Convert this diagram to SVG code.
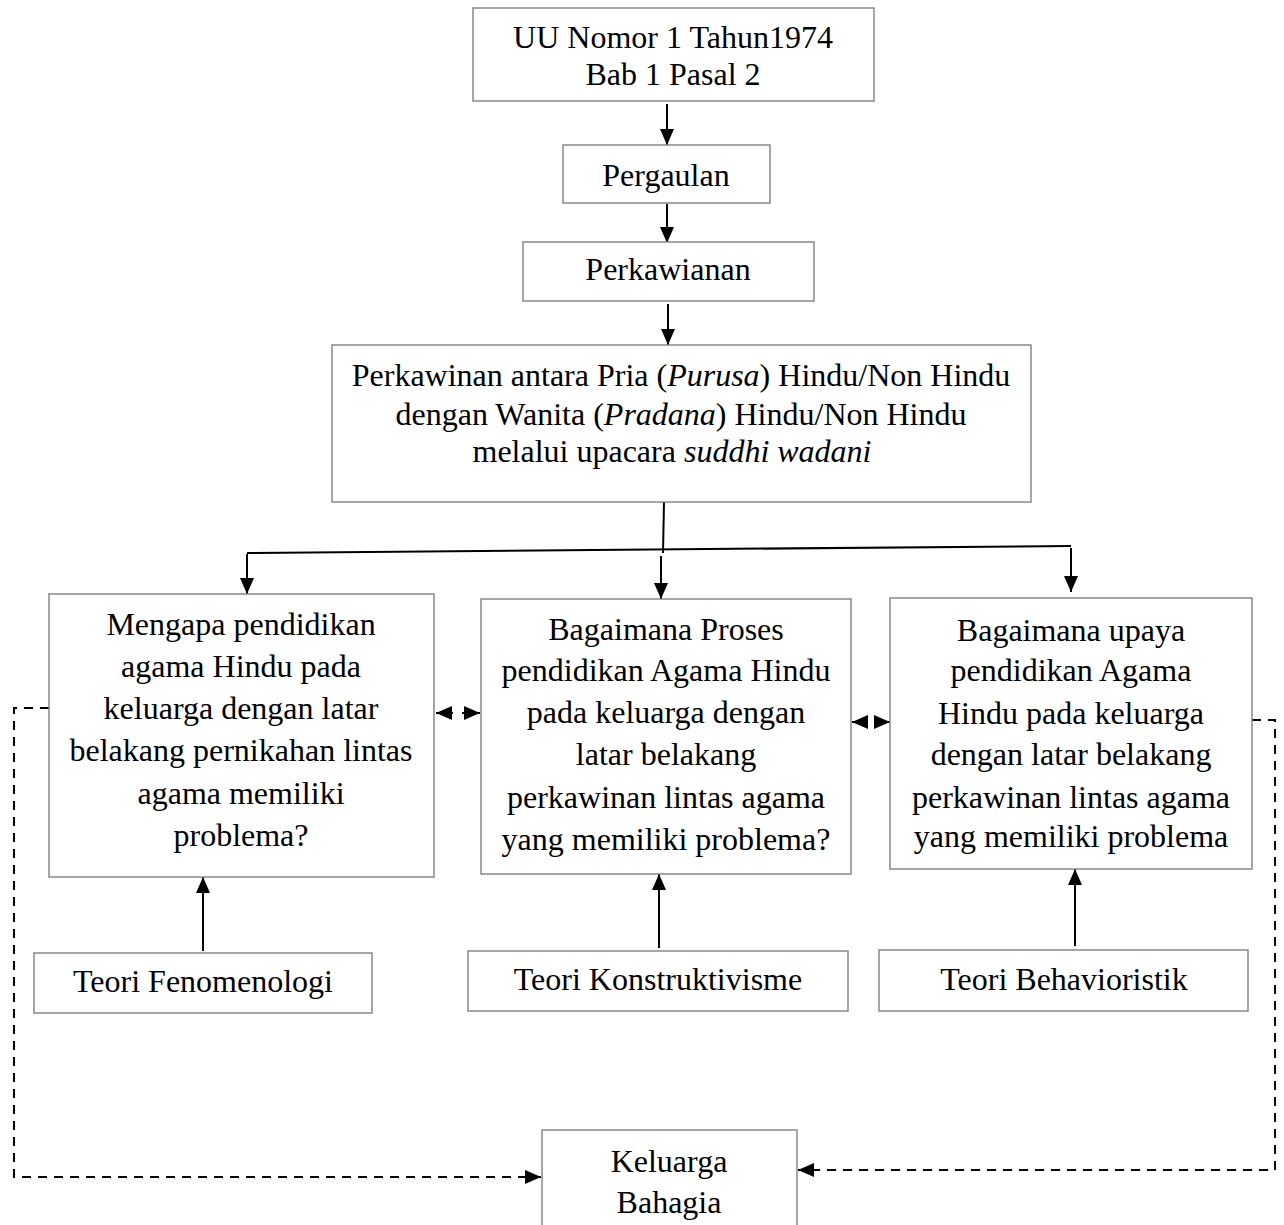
<svg xmlns="http://www.w3.org/2000/svg" width="1284" height="1225" viewBox="0 0 1284 1225">
<defs>
<style>
.box{fill:#fff;stroke:#808080;stroke-width:1.4}
.t{font-family:"Liberation Serif","Times New Roman",serif;font-size:32px;fill:#000;text-anchor:middle}
.c{fill:none;stroke:#000;stroke-width:2}
.d{fill:none;stroke:#000;stroke-width:2;stroke-dasharray:9 7}
</style>
<marker id="ah" viewBox="0 0 16 14" refX="16" refY="7" markerWidth="16" markerHeight="14" markerUnits="userSpaceOnUse" orient="auto">
<path d="M0,0 L16,7 L0,14 Z" fill="#000"/>
</marker>
</defs>
<rect width="1284" height="1225" fill="#fff"/>
<g id="connectors">
<path class="c" d="M667,104 V145" marker-end="url(#ah)"/>
<path class="c" d="M667,204 V243" marker-end="url(#ah)"/>
<path class="c" d="M668,304 V345" marker-end="url(#ah)"/>
<path class="c" d="M664,502 L663,553"/>
<path class="c" d="M247,553 L1071,546"/>
<path class="c" d="M247,554 V594" marker-end="url(#ah)"/>
<path class="c" d="M661,556 V599" marker-end="url(#ah)"/>
<path class="c" d="M1071,548 V592" marker-end="url(#ah)"/>
<path class="c" d="M453,713 H436" marker-end="url(#ah)"/>
<path class="c" d="M462,713 H480" marker-end="url(#ah)"/>
<path class="c" d="M868,722 H852" marker-end="url(#ah)"/>
<path class="c" d="M874,722 H890" marker-end="url(#ah)"/>
<path class="c" d="M203,951 V877" marker-end="url(#ah)"/>
<path class="c" d="M659,948 V874" marker-end="url(#ah)"/>
<path class="c" d="M1075,946 V869" marker-end="url(#ah)"/>
<path class="d" d="M49,708 H14 V1177 H541" marker-end="url(#ah)"/>
<path class="d" d="M1252,720 H1275 V1170 H798" marker-end="url(#ah)"/>
</g>
<g id="n-uu">
<rect class="box" x="473" y="8" width="401" height="93"/>
<text class="t" x="673" y="48">UU Nomor 1 Tahun1974</text>
<text class="t" x="673" y="85">Bab 1 Pasal 2</text>
</g>
<g id="n-pergaulan">
<rect class="box" x="563" y="145" width="207" height="58"/>
<text class="t" x="666" y="186">Pergaulan</text>
</g>
<g id="n-perkawianan">
<rect class="box" x="523" y="242" width="291" height="59"/>
<text class="t" x="668" y="280">Perkawianan</text>
</g>
<g id="n-perkawinan">
<rect class="box" x="332" y="345" width="699" height="157"/>
<text class="t" x="681" y="386">Perkawinan antara Pria (<tspan font-style="italic">Purusa</tspan>) Hindu/Non Hindu</text>
<text class="t" x="681" y="425">dengan Wanita (<tspan font-style="italic">Pradana</tspan>) Hindu/Non Hindu</text>
<text class="t" x="672" y="462">melalui upacara <tspan font-style="italic">suddhi wadani</tspan></text>
</g>
<g id="n-mengapa">
<rect class="box" x="49" y="594" width="385" height="283"/>
<text class="t" x="241" y="635">Mengapa pendidikan</text>
<text class="t" x="241" y="677">agama Hindu pada</text>
<text class="t" x="241" y="719">keluarga dengan latar</text>
<text class="t" x="241" y="761">belakang pernikahan lintas</text>
<text class="t" x="241" y="804">agama memiliki</text>
<text class="t" x="241" y="846">problema?</text>
</g>
<g id="n-proses">
<rect class="box" x="481" y="599" width="370" height="275"/>
<text class="t" x="666" y="640">Bagaimana Proses</text>
<text class="t" x="666" y="681">pendidikan Agama Hindu</text>
<text class="t" x="666" y="723">pada keluarga dengan</text>
<text class="t" x="666" y="765">latar belakang</text>
<text class="t" x="666" y="808">perkawinan lintas agama</text>
<text class="t" x="666" y="850">yang memiliki problema?</text>
</g>
<g id="n-upaya">
<rect class="box" x="890" y="598" width="362" height="271"/>
<text class="t" x="1071" y="641">Bagaimana upaya</text>
<text class="t" x="1071" y="681">pendidikan Agama</text>
<text class="t" x="1071" y="724">Hindu pada keluarga</text>
<text class="t" x="1071" y="765">dengan latar belakang</text>
<text class="t" x="1071" y="808">perkawinan lintas agama</text>
<text class="t" x="1071" y="847">yang memiliki problema</text>
</g>
<g id="n-fenomenologi">
<rect class="box" x="34" y="953" width="338" height="60"/>
<text class="t" x="203" y="992">Teori Fenomenologi</text>
</g>
<g id="n-konstruktivisme">
<rect class="box" x="468" y="951" width="380" height="60"/>
<text class="t" x="658" y="990">Teori Konstruktivisme</text>
</g>
<g id="n-behavioristik">
<rect class="box" x="879" y="950" width="369" height="61"/>
<text class="t" x="1064" y="990">Teori Behavioristik</text>
</g>
<g id="n-keluarga">
<rect class="box" x="542" y="1130" width="255" height="100"/>
<text class="t" x="669" y="1172">Keluarga</text>
<text class="t" x="669" y="1213">Bahagia</text>
</g>
</svg>
